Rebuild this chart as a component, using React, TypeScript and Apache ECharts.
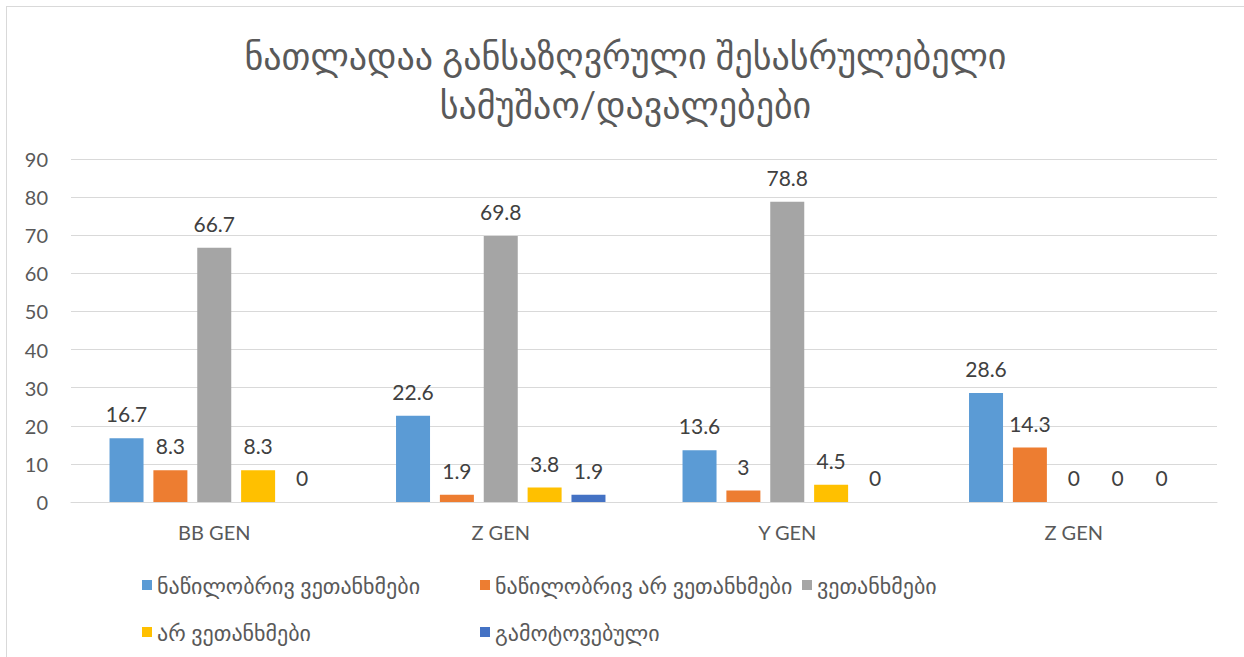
import React, { useEffect, useRef } from "react";
import * as echarts from "echarts";

const titleLines = ["ნათლადაა განსაზღვრული შესასრულებელი", "სამუშაო/დავალებები"];
const categories = ["BB GEN", "Z GEN", "Y GEN", "Z GEN"];
const seriesNames = [
  "ნაწილობრივ ვეთანხმები",
  "ნაწილობრივ არ ვეთანხმები",
  "ვეთანხმები",
  "არ ვეთანხმები",
  "გამოტოვებული",
];
const partlyAgree = [16.7, 22.6, 13.6, 28.6];
const partlyDisagree = [8.3, 1.9, 3, 14.3];
const agree = [66.7, 69.8, 78.8, 0];
const disagree = [8.3, 3.8, 4.5, 0];
const skipped = [0, 1.9, 0, 0];
const seriesValues = [partlyAgree, partlyDisagree, agree, disagree, skipped];
const colors = ["#5B9BD5", "#ED7D31", "#A5A5A5", "#FFC000", "#4472C4"];

const FONT = "Lato, 'DejaVu Sans', sans-serif";

export default function App() {
  const ref = useRef<HTMLDivElement>(null);
  useEffect(() => {
    if (!ref.current) return;
    const chart = echarts.init(ref.current, undefined, { renderer: "svg" });
    const legendPos = [
      { left: 130, top: 562 },
      { left: 468, top: 562 },
      { left: 790, top: 562 },
      { left: 130, top: 609 },
      { left: 468, top: 609 },
    ];
    chart.setOption({
      animation: false,
      title: {
        text: titleLines.join("\n"),
        left: "center",
        top: 18,
        textStyle: {
          fontFamily: FONT,
          fontSize: 36,
          fontWeight: "normal",
          color: "#595959",
          lineHeight: 49,
        },
      },
      legend: seriesNames.map((name, i) => ({
        data: [name],
        left: legendPos[i].left,
        top: legendPos[i].top,
        itemWidth: 10,
        itemHeight: 10,
        itemGap: 0,
        icon: "rect",
        selectedMode: false,
        textStyle: { fontFamily: FONT, fontSize: 22, color: "#595959" },
      })),
      grid: { left: 64, right: 27, top: 152, bottom: 155 },
      xAxis: {
        type: "category",
        data: categories,
        axisTick: { show: false },
        axisLine: { lineStyle: { color: "#D9D9D9" } },
        axisLabel: { fontFamily: FONT, fontSize: 20, color: "#595959", margin: 20 },
      },
      yAxis: {
        type: "value",
        min: 0,
        max: 90,
        interval: 10,
        axisLine: { show: false },
        axisTick: { show: false },
        splitLine: { lineStyle: { color: "#D9D9D9" } },
        axisLabel: { fontFamily: FONT, fontSize: 20, color: "#595959", margin: 23 },
      },
      series: seriesNames.map((name, i) => ({
        name,
        type: "bar",
        data: seriesValues[i],
        barWidth: 34,
        barGap: "29%",
        itemStyle: { color: colors[i] },
        label: {
          show: true,
          position: "top",
          distance: 14,
          fontFamily: FONT,
          fontSize: 21,
          color: "#404040",
        },
      })),
    });
    return () => chart.dispose();
  }, []);
  return (
    <div
      style={{
        position: "fixed",
        left: 0,
        top: 0,
        width: 1244,
        height: 657,
        overflow: "hidden",
        background: "#fff",
      }}
    >
      <div
        ref={ref}
        style={{
          position: "absolute",
          left: 6,
          top: 6,
          width: 1237,
          height: 650,
          borderLeft: "1px solid #D9D9D9",
          borderTop: "1px solid #D9D9D9",
        }}
      />
    </div>
  );
}
